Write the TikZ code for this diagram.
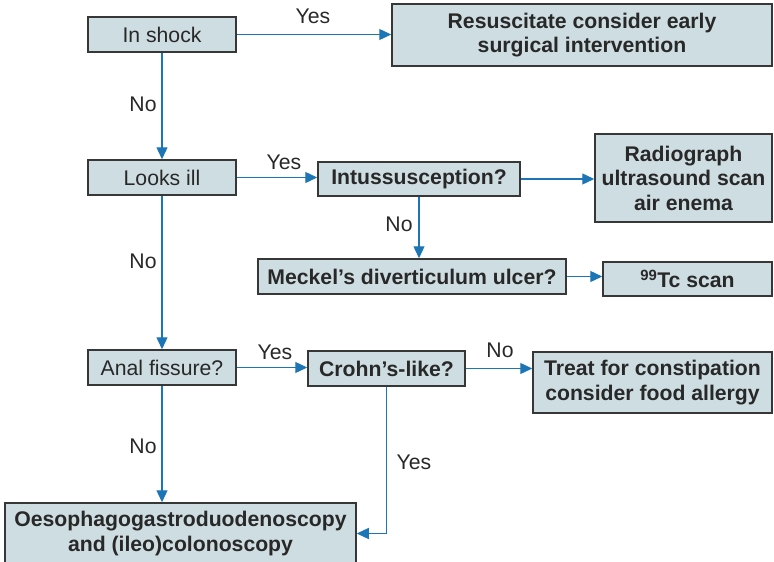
\documentclass[tikz,border=0pt]{standalone}
\usepackage{fontspec}
\setmainfont{Liberation Sans}
\usetikzlibrary{arrows.meta}
\definecolor{boxfill}{RGB}{206,221,225}
\definecolor{boxline}{RGB}{55,55,55}
\definecolor{flow}{RGB}{28,118,182}
\definecolor{ink}{RGB}{40,40,40}
\tikzset{
  box/.style={draw=boxline, line width=1.5pt, fill=boxfill, inner sep=0pt,
    align=center, text=ink, font=\fontsize{21.2}{24.5}\selectfont},
  bbox/.style={box, font=\fontsize{21.2}{24.5}\selectfont\bfseries},
  flowline/.style={draw=flow, line width=1.3pt, -{Triangle[length=12pt,width=11pt]}},
  lbl/.style={text=ink, font=\fontsize{21.2}{24.5}\selectfont, inner sep=0pt}
}
\begin{document}
\begin{tikzpicture}[x=1pt, y=-1pt]
\useasboundingbox (0,0) rectangle (774,562);
\clip (0,0) rectangle (774,562);

% decision and action boxes
\node[box,  minimum width=148pt, minimum height=35pt] (shock) at (162,34.5) {In shock};
\node[bbox, minimum width=380pt, minimum height=62pt] (resus) at (582,35) {Resuscitate consider early\\surgical intervention};
\node[box,  minimum width=148pt, minimum height=35pt] (ill) at (162,177.5) {Looks ill};
\node[bbox, minimum width=202pt, minimum height=34pt] (intus) at (419,179) {Intussusception?};
\node[bbox, minimum width=177pt, minimum height=88pt] (radio) at (683.5,178) {Radiograph\\ultrasound scan\\air enema};
\node[bbox, minimum width=308pt, minimum height=35pt] (meck) at (412,276.5) {Meckel’s diverticulum ulcer?};
\node[bbox, minimum width=169pt, minimum height=34pt] (tc) at (687.5,279) {\textsuperscript{99}Tc scan};
\node[box,  minimum width=148pt, minimum height=35pt] (anal) at (162,367.5) {Anal fissure?};
\node[bbox, minimum width=157pt, minimum height=35pt] (crohn) at (386.5,368.5) {Crohn’s-like?};
\node[bbox, minimum width=239pt, minimum height=61pt] (treat) at (652.5,382.5) {Treat for constipation\\consider food allergy};
\node[bbox, minimum width=351pt, minimum height=61pt] (ogd) at (180.5,533.5) {Oesophagogastroduodenoscopy\\and (ileo)colonoscopy};

% connectors
\draw[flowline] (shock.east) -- (resus.west |- shock.east);
\draw[flowline] (shock.south) -- (ill.north);
\draw[flowline] (ill.east) -- (intus.west |- ill.east);
\draw[flowline] (intus.east) -- (radio.west |- intus.east);
\draw[flowline] (intus.south) -- (intus.south |- meck.north);
\draw[flowline] (meck.east) -- (tc.west |- meck.east);
\draw[flowline] (ill.south) -- (anal.north);
\draw[flowline] (anal.east) -- (crohn.west |- anal.east);
\draw[flowline] (crohn.east) -- (treat.west |- crohn.east);
\draw[flowline] (anal.south) -- (ogd.north -| anal.south);
\draw[flowline] (crohn.south) |- (ogd.east);

% branch labels
\node[lbl] (l1) at (313,16) {Yes};
\node[lbl] (l2) at (143,104) {No};
\node[lbl] (l3) at (284,162) {Yes};
\node[lbl] (l4) at (399,224) {No};
\node[lbl] (l5) at (143,261) {No};
\node[lbl] (l6) at (275,352) {Yes};
\node[lbl] (l7) at (500,350) {No};
\node[lbl] (l8) at (143,446) {No};
\node[lbl] (l9) at (414,462) {Yes};
\end{tikzpicture}
\end{document}
